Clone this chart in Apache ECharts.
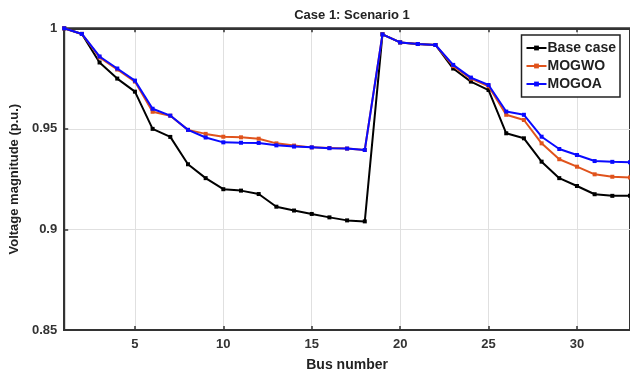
<!DOCTYPE html>
<html><head><meta charset="utf-8">
<script src="https://cdn.jsdelivr.net/npm/echarts@6/dist/echarts.min.js"></script>
<style>html,body{margin:0;padding:0;background:#fff}#c{width:630px;height:377px}</style>
</head><body><div id="c"></div>
<script>
const buses = [1,2,3,4,5,6,7,8,9,10,11,12,13,14,15,16,17,18,19,20,21,22,23,24,25,26,27,28,29,30,31,32,33];
const baseCase = [1,0.9972,0.983,0.975,0.9685,0.950,0.946,0.9324,0.9255,0.920,0.9193,0.9176,0.9113,0.9094,0.9077,0.906,0.9045,0.904,0.997,0.993,0.9922,0.9917,0.980,0.9735,0.9693,0.9478,0.9453,0.9337,0.9255,0.9216,0.9175,0.9167,0.9167];
const mogwo = [1,0.9972,0.9855,0.9795,0.9735,0.9585,0.9565,0.9495,0.9475,0.9461,0.9458,0.9451,0.9428,0.9417,0.9408,0.9405,0.9402,0.9395,0.997,0.993,0.9922,0.9917,0.9812,0.975,0.9712,0.957,0.9544,0.9428,0.9349,0.9312,0.9274,0.9262,0.9258];
const mogoa = [1,0.9972,0.986,0.980,0.974,0.960,0.9566,0.9495,0.9457,0.9433,0.9431,0.943,0.9418,0.9412,0.9408,0.9404,0.9402,0.9395,0.997,0.993,0.9922,0.9917,0.9818,0.9755,0.9718,0.9586,0.957,0.9461,0.940,0.937,0.934,0.9336,0.9334];
const xTicks = [5,10,15,20,25,30];
const seriesNames = ['Base case','MOGWO','MOGOA'];
const colors = ['#000000','#e0531c','#0a0aff'];

const chart = echarts.init(document.getElementById('c'));
const font = 'Liberation Sans, Arial, sans-serif';
const mk = (name, vals, color, z) => ({
  name, type:'line', xAxisIndex:0, yAxisIndex:0,
  data: buses.map((b,i)=>[b, vals[i]]),
  symbol:'rect', symbolSize:4, showSymbol:true,
  lineStyle:{color, width:2}, itemStyle:{color}, z,
  animation:false, clip:true
});
chart.setOption({
  animation:false,
  title:{text:'Case 1: Scenario 1', left:347, top:4, textAlign:'center',
    textStyle:{fontFamily:font, fontSize:13, fontWeight:'bold', color:'#222'}},
  legend:{
    right:10, top:35, orient:'vertical', data:seriesNames,
    backgroundColor:'#fff', borderColor:'#222', borderWidth:1.5, borderRadius:0,
    padding:[6,4,6,4], itemGap:4, itemWidth:20, itemHeight:6,
    textStyle:{fontFamily:font, fontSize:14, fontWeight:'bold', color:'#222', padding:[0,0,0,-4]}
  },
  grid:{left:63.5, right:-1.5, top:28.3, bottom:47, show:true, borderColor:'#333', borderWidth:2, containLabel:false},
  xAxis:[{
    type:'value', min:1, max:33, position:'bottom',
    name:'Bus number', nameLocation:'middle', nameGap:28,
    nameTextStyle:{fontFamily:font, fontSize:14, fontWeight:'bold', color:'#222'},
    axisLine:{show:true, onZero:false, lineStyle:{color:'#333', width:2}},
    axisTick:{show:true, inside:true, length:4, customValues:xTicks, lineStyle:{color:'#333', width:1.5}},
    axisLabel:{customValues:xTicks, fontFamily:font, fontSize:13, fontWeight:'bold', color:'#333', margin:8},
    splitLine:{show:true, lineStyle:{color:'#e0e0e0', width:1}}
  },{
    type:'value', min:1, max:33, position:'top',
    axisLine:{show:true, lineStyle:{color:'#333', width:2}},
    axisTick:{show:true, inside:true, length:4, customValues:xTicks, lineStyle:{color:'#333', width:1.5}},
    axisLabel:{show:false}, splitLine:{show:false}
  }],
  yAxis:[{
    type:'value', min:0.85, max:1, interval:0.05,
    name:'Voltage magnitude (p.u.)', nameLocation:'middle', nameGap:43,
    nameTextStyle:{fontFamily:font, fontSize:13, fontWeight:'bold', color:'#222'},
    axisLine:{show:true, lineStyle:{color:'#333', width:2}},
    axisTick:{show:true, inside:true, length:4, lineStyle:{color:'#333', width:1.5}},
    axisLabel:{fontFamily:font, fontSize:13, fontWeight:'bold', color:'#333', margin:7,
      formatter:v=>String(parseFloat(v.toFixed(2)))},
    splitLine:{show:true, lineStyle:{color:'#e0e0e0', width:1}}
  }],
  series:[
    mk(seriesNames[0], baseCase, colors[0], 3),
    mk(seriesNames[1], mogwo, colors[1], 4),
    mk(seriesNames[2], mogoa, colors[2], 5)
  ]
});
</script></body></html>
